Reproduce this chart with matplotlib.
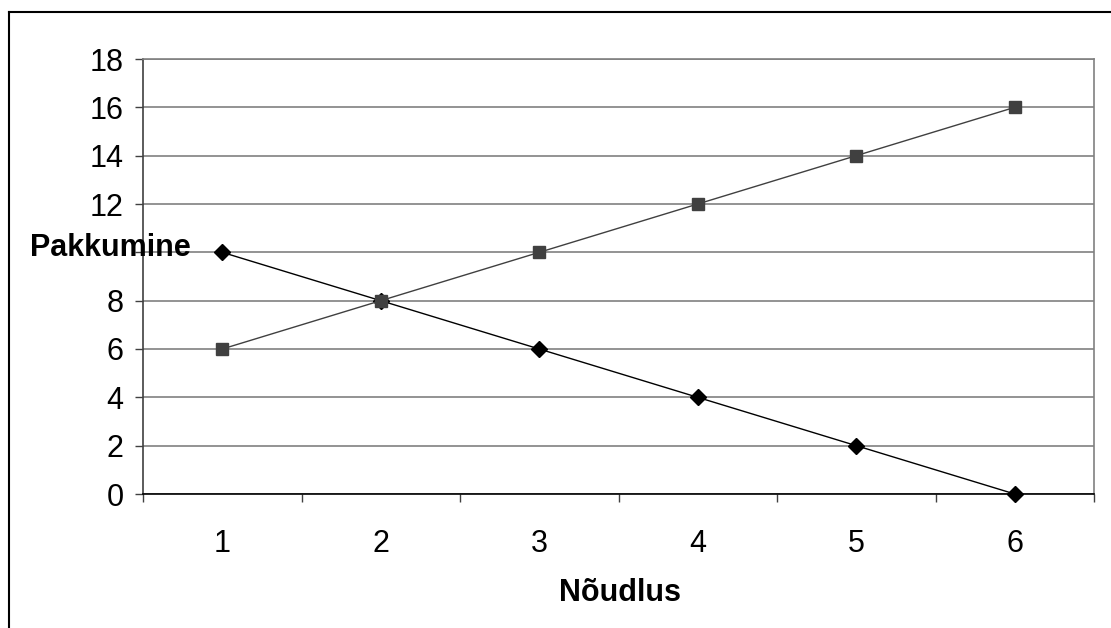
import matplotlib.pyplot as plt
from matplotlib.lines import Line2D

# andmed
noudlus = [1, 2, 3, 4, 5, 6]
pakkumine_a = [10, 8, 6, 4, 2, 0]
pakkumine_b = [6, 8, 10, 12, 14, 16]
y_ticks = [0, 2, 4, 6, 8, 10, 12, 14, 16, 18]

plt.rcParams['font.family'] = ['Liberation Sans', 'DejaVu Sans']

W, H = 1111, 628
fig = plt.figure(figsize=(W / 100, H / 100), dpi=100)
ax = fig.add_axes([143 / W, 1 - 494 / H, (1094 - 143) / W, (494 - 59) / H])

ax.plot(noudlus, pakkumine_a, color='black', lw=1, marker='D', ms=8,
        mfc='black', mec='black', zorder=3, clip_on=False)
ax.plot(noudlus, pakkumine_b, color='#404040', lw=1, marker='s', ms=8,
        mfc='#404040', mec='#404040', zorder=3, clip_on=False)

ax.set_xlim(0.5, 6.5)
ax.set_ylim(0, 18)
ax.set_yticks(y_ticks)
ax.set_xticks(noudlus)
ax.set_xticks([x + 0.5 for x in range(0, 7)], minor=True)
ax.yaxis.grid(True, color='#808080', lw=1.2)
ax.set_axisbelow(True)

ax.tick_params(axis='y', length=6, width=1, color='#404040', labelsize=22, pad=8)
ax.tick_params(axis='x', which='major', length=0, labelsize=22, pad=25)
ax.tick_params(axis='x', which='minor', length=6, width=1, color='#404040')

# "10" jääb telje pealkirja alla peitu
fig.canvas.draw()
for t in ax.get_yticklabels():
    if t.get_text() == '10':
        t.set_visible(False)

ax.spines['left'].set_color('#404040')
ax.spines['bottom'].set_color('black')
ax.spines['top'].set_color('#808080')
ax.spines['right'].set_color('#808080')
for s in ax.spines.values():
    s.set_linewidth(1.2)

fig.text(30 / W, 1 - 248 / H, 'Pakkumine', fontsize=22, fontweight='bold',
         va='center', ha='left')
fig.text(620 / W, 1 - 593 / H, 'Nõudlus', fontsize=22, fontweight='bold',
         va='center', ha='center')

# raam
fig.add_artist(Line2D([9 / W, 9 / W], [0, 1 - 12 / H], color='black', lw=1.5,
                      transform=fig.transFigure))
fig.add_artist(Line2D([9 / W, 1], [1 - 12 / H, 1 - 12 / H], color='black', lw=1.5,
                      transform=fig.transFigure))

fig.savefig('out.png', dpi=100)
